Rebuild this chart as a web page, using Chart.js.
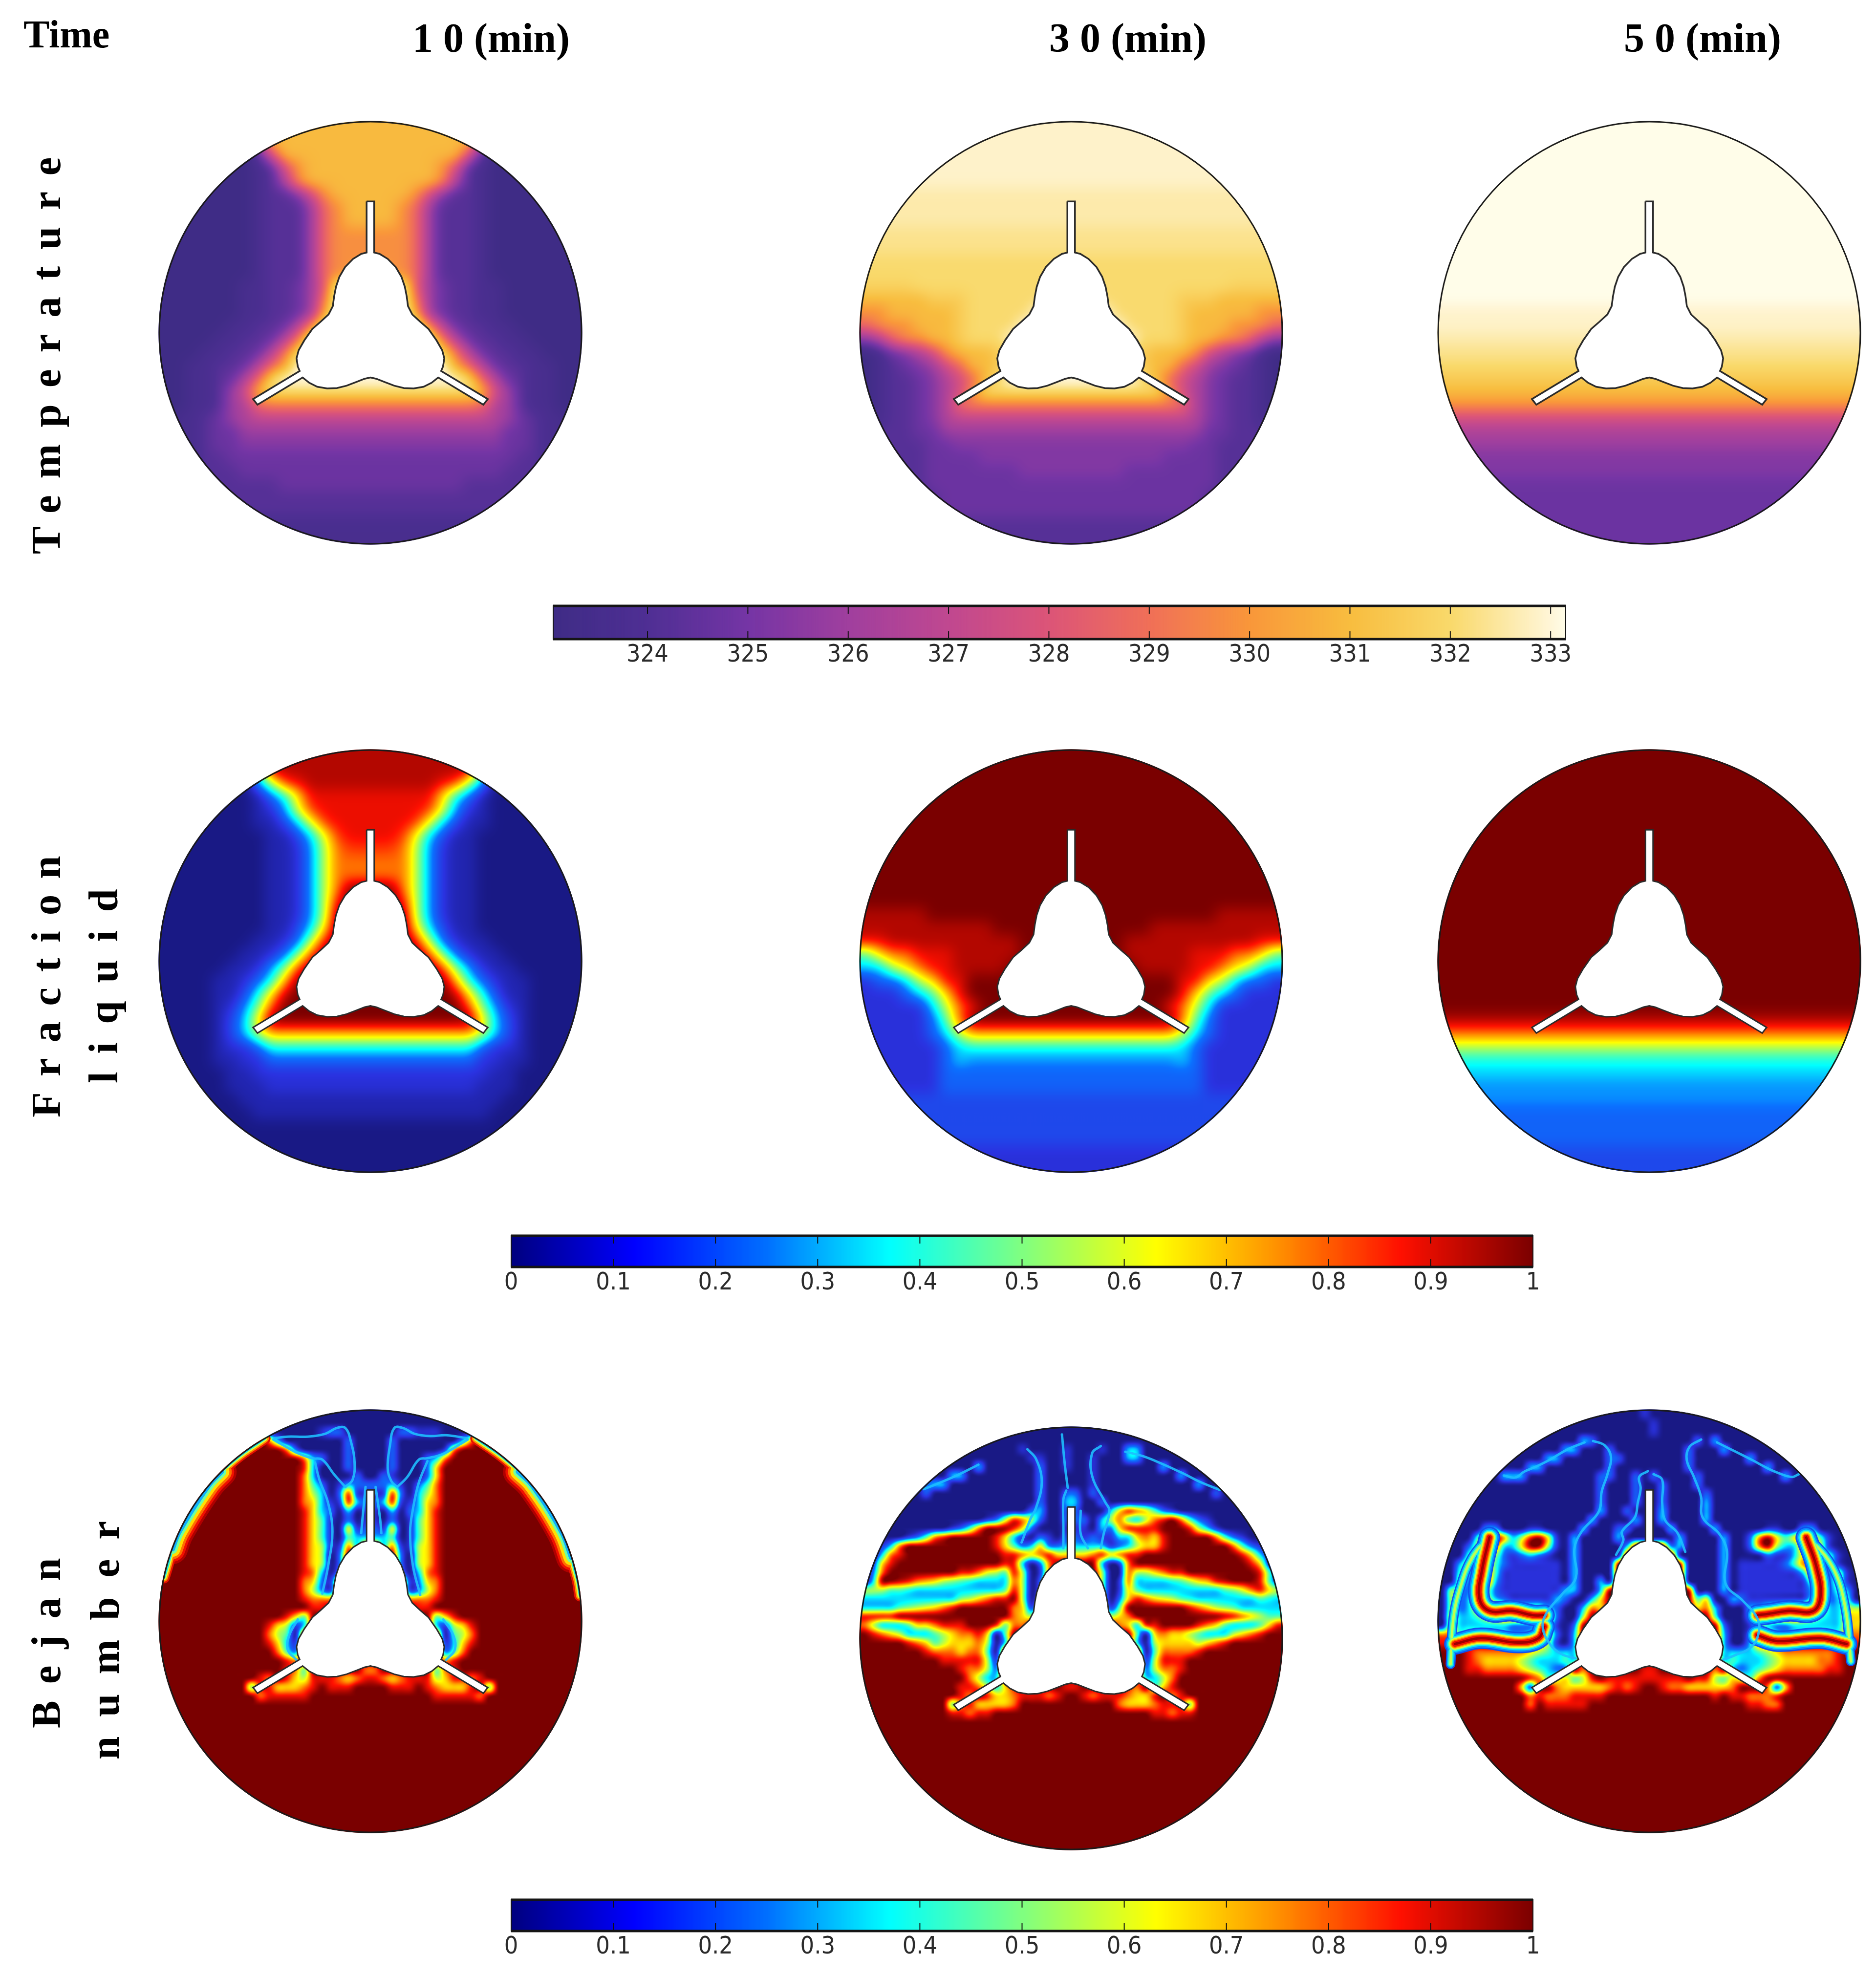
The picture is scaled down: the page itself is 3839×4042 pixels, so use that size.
<!DOCTYPE html>
<html>
<head>
<meta charset="utf-8">
<title>Temperature, fraction liquid and Bejan number</title>
<script src="https://cdn.jsdelivr.net/npm/chart.js@4/dist/chart.umd.min.js"></script>
<style>
  html, body { margin: 0; background: #fff; }
  #page { position: relative; width: 3839px; height: 4042px; overflow: hidden; background: #fff; }
  canvas { position: absolute; }
  .head, .side { position: absolute; font-family: "Liberation Serif", serif; font-weight: 700; color: #000; white-space: nowrap; line-height: 1; }
  .side { transform: rotate(-90deg); transform-origin: left top; font-size: 85px; }
</style>
</head>
<body>
<div id="page"></div>
<script>
// labels
const timeLabel = "Time";
const timeColumns = ["1 0 (min)", "3 0 (min)", "5 0 (min)"];
const tempTicks = [324, 325, 326, 327, 328, 329, 330, 331, 332, 333];
const ratioTicks = [0, 0.1, 0.2, 0.3, 0.4, 0.5, 0.6, 0.7, 0.8, 0.9, 1];

// colour scale stops
const tempStops = [[323.06, "#3f2c86"], [324, "#4f2f94"], [325, "#7535a5"], [326, "#a03f9e"], [327, "#c04890"], [328, "#dc5578"], [329, "#f07058"], [330, "#f9973a"], [331, "#f8bd3f"], [332, "#f9d96b"], [333, "#fff6d8"], [333.15, "#fffde9"]];
const jetStops = [[0, "#00007f"], [0.12, "#0000ff"], [0.25, "#0070ff"], [0.37, "#00ffff"], [0.5, "#80ff80"], [0.63, "#ffff00"], [0.75, "#ff9000"], [0.87, "#ff1000"], [1, "#7a0000"]];
const jetFieldStops = [[0, "#191985"], [0.12, "#2a32e0"], [0.25, "#0a70ff"], [0.37, "#00ffff"], [0.5, "#80ff80"], [0.63, "#ffff00"], [0.75, "#ff9000"], [0.87, "#ff1000"], [1, "#7a0000"]];

// tube with its three fins, in units of the enclosure radius
const tubeX = [-.018,.018,.018,.043,.082,.120,.147,.163,.172,.178,.198,.236,.275,.313,.340,.350,.344,.335,.556,.535,.321,.290,.252,.205,.159,.113,.066,.028,0,-.028,-.066,-.113,-.159,-.205,-.252,-.290,-.321,-.535,-.556,-.335,-.344,-.350,-.340,-.313,-.275,-.236,-.198,-.178,-.172,-.163,-.147,-.120,-.082,-.043,-.018,-.018];
const tubeY = [.622,.622,.380,.374,.350,.311,.265,.218,.172,.126,.087,.052,.018,-.036,-.083,-.121,-.160,-.181,-.314,-.341,-.212,-.237,-.256,-.264,-.262,-.251,-.233,-.218,-.212,-.218,-.233,-.251,-.262,-.264,-.256,-.237,-.212,-.341,-.314,-.181,-.160,-.121,-.083,-.036,.018,.052,.087,.126,.172,.218,.265,.311,.350,.374,.380,.622];

// field levels, one character per cell, top row first.
// 0-9 are levels, a-i are half steps (a = 0.5 ... i = 8.5), P Q R are 7.75 8.25 8.75
const temp10 = [
"0000000377777777 7777777730000000","0000000377777777 7777777730000000","0000000147777777 7777777410000000","0000000a14677777 77777641a0000000",
"0000000a13677777 77777631a0000000","0000000a11246777 77764211a0000000","0000000a111c5677 7765c111a0000000","0000000a111c5677 7765c111a0000000",
"0000000a111c5666 6665c111a0000000","0000000a111c5666 6665c111a0000000","0000000a111c5666 6665c111a0000000","0000000a111c5669 9665c111a0000000",
"000000aa11bce999 999ecb11aa000000","000000aa11bcf999 999fcb11aa000000","000000aa11bcg999 999gcb11aa000000","00000aa11b369999 999963b11aa00000",
"0000aa11b3f99999 99999f3b11aa0000","000aa11b3f899999 999998f3b11aa000","00aa11b35g999999 999999g53b11aa00","00aa1b3589999999 9999999853b1aa00",
"00aa1c4788888888 8888888874c1aa00","00aa1c35ffffffff ffffffff53c1aa00","0aa1bc3ddddddddd ddddddddd3cb1aa0","0aa1bbcccccccccc ccccccccccbb1aa0",
"0aa1bb2222222222 2222222222bb1aa0","0aa11bbbbbbbbbbb bbbbbbbbbbb11aa0","0aa111bbbbbbbbbb bbbbbbbbbb111aa0","0aa111111bbbbbbb bbbbbbb111111aa0",
"0aa1111111111111 1111111111111aa0","0aaa111111111111 111111111111aaa0","00aaaaaaaaaaaaaa aaaaaaaaaaaaaa00","00aaaaaaaaaaaaaa aaaaaaaaaaaaaa00"];
const temp30 = [
"RRRRRRRRRRRRRRRR RRRRRRRRRRRRRRRR","RRRRRRRRRRRRRRRR RRRRRRRRRRRRRRRR","RRRRRRRRRRRRRRRR RRRRRRRRRRRRRRRR","RRRRRRRRRRRRRRRR RRRRRRRRRRRRRRRR",
"RRRRRRRRRRRRRRRR RRRRRRRRRRRRRRRR","iiiiiiiiiiiiiiii iiiiiiiiiiiiiiii","iiiiiiiiiiiiiiii iiiiiiiiiiiiiiii","iiiiiiiiiiiiiiii iiiiiiiiiiiiiiii",
"QQQQQQQQQQQQQQQQ QQQQQQQQQQQQQQQQ","QQQQQQQQQQQQQQQQ QQQQQQQQQQQQQQQQ","8888888888888888 8888888888888888","8888888888888888 8888888888888888",
"PPPP888888888889 988888888888PPPP","77777hhh88888899 99888888hhh77777","6677777h88888999 99988888h7777766","5666777h88889999 99998888h7776665",
"2356677h88899999 99999888h7766532","0ab2346777h89999 99998h7776432ba0","0a1b2c4577h89999 99998h7754c2b1a0","0a11b23457899999 99999875432b11a0",
"0a11b23468888888 88888886432b11a0","0a11b235ffffffff ffffffff532b11a0","aa11b23ddddddddd ddddddddd32b11aa","a111bbcccccccccc ccccccccccbb111a",
"a1111bb222222222 222222222bb1111a","a1111bbbb2222222 2222222bbbb1111a","a1111bbbbbbb2222 2222bbbbbbb1111a","a1111bbbbbbbbbbb bbbbbbbbbbb1111a",
"a11111bbbbbbbbbb bbbbbbbbbb11111a","aa1111bbbbbbbbbb bbbbbbbbbb1111aa","aa11111111111111 11111111111111aa","aa11111111111111 11111111111111aa"];
const temp50 = [
"9999999999999999 9999999999999999","9999999999999999 9999999999999999","9999999999999999 9999999999999999","9999999999999999 9999999999999999",
"9999999999999999 9999999999999999","9999999999999999 9999999999999999","9999999999999999 9999999999999999","9999999999999999 9999999999999999",
"9999999999999999 9999999999999999","9999999999999999 9999999999999999","9999999999999999 9999999999999999","9999999999999999 9999999999999999",
"9999999999999999 9999999999999999","9999999999999999 9999999999999999","RRRRRRRRRRRRRRRR RRRRRRRRRRRRRRRR","RRRRRRRRRRRRRRRR RRRRRRRRRRRRRRRR",
"iiiiiiiiiiiiiiii iiiiiiiiiiiiiiii","QQQQQQQQQQQQQQQQ QQQQQQQQQQQQQQQQ","8888888888888888 8888888888888888","hhhhhhhhhhhhhhhh hhhhhhhhhhhhhhhh",
"7777777777777777 7777777777777777","6666666666666666 6666666666666666","4444444444444444 4444444444444444","3333333333333333 3333333333333333",
"cccccccccccccccc cccccccccccccccc","2222222222222222 2222222222222222","2222222222222222 2222222222222222","bbbbbbbbbbbbbbbb bbbbbbbbbbbbbbbb",
"bbbbbbbbbbbbbbbb bbbbbbbbbbbbbbbb","bbbbbbbbbbbbbbbb bbbbbbbbbbbbbbbb","bbbbbbbbbbbbbbbb bbbbbbbbbbbbbbbb","bbbbbbbbbbbbbbbb bbbbbbbbbbbbbbbb"];

const frac10 = [
"00000003iiiiiiii iiiiiiii30000000","00000004iiiiiiii iiiiiiii40000000","0000000c5h8iiiii iiiii8h5c0000000","0000000a2d688888 888886d2a0000000",
"0000000a1cfh8888 8888hfc1a0000000","0000000aab3fh888 888hf3baa0000000","00000000aab3fh88 88hf3baa00000000","00000000aa1c57hh hh75c1aa00000000",
"00000000aa1c5777 7775c1aa00000000","00000000aa1c5777 7775c1aa00000000","00000000aa1c5799 9975c1aa00000000","00000000aa1c5899 9985c1aa00000000",
"00000000aa1c5999 9995c1aa00000000","00000000aab36999 99963baa00000000","0000000aa1258999 9998521aa0000000","000000aa12eh9999 9999he21aa000000",
"00000aa1ceh99999 99999hec1aa00000","0000aa12dg999999 999999gd21aa0000","0000aabd6i999999 999999i6dbaa0000","0000a1ceh9999999 9999999hec1a0000",
"0000ab3699999999 9999999963ba0000","0000ab35gggggggg gggggggg53ba0000","0000a112dddddddd dddddddd211a0000","0000aa1122222222 2222222211aa0000",
"00000aa111111111 111111111aa00000","00000aaa11111111 11111111aaa00000","000000aaaaaaaaaa aaaaaaaaaa000000","0000000aaaaaaaaa aaaaaaaaa0000000",
"0000000000000000 0000000000000000","0000000000000000 0000000000000000","0000000000000000 0000000000000000","0000000000000000 0000000000000000"];
const frac30 = [
"9999999999999999 9999999999999999","9999999999999999 9999999999999999","9999999999999999 9999999999999999","9999999999999999 9999999999999999",
"9999999999999999 9999999999999999","9999999999999999 9999999999999999","9999999999999999 9999999999999999","9999999999999999 9999999999999999",
"9999999999999999 9999999999999999","9999999999999999 9999999999999999","9999999999999999 9999999999999999","9999999999999999 9999999999999999",
"iiiii99999999999 99999999999iiiii","iiiiiiiiii999999 999999iiiiiiiiii","88iiiiiiiiii9999 9999iiiiiiiiii88","4677888iiiii9999 9999iiiii8887764",
"3356788iiii99999 99999iiii8876533","1223568899999999 9999999988653221","1112346899999999 9999999986432111","1111135789999999 9999999875311111",
"1111124799999999 9999999974211111","11111235gggggggg gggggggg53211111","11111123dddddddd dddddddd32111111","11111123cccccccc cccccccc32111111",
"1111112222222222 2222222222111111","1111112222222222 2222222222111111","bbbbbbbbbbbbbbbb bbbbbbbbbbbbbbbb","bbbbbbbbbbbbbbbb bbbbbbbbbbbbbbbb",
"bbbbbbbbbbbbbbbb bbbbbbbbbbbbbbbb","1bbbbbbbbbbbbbbb bbbbbbbbbbbbbbb1","1111111111111111 1111111111111111","aaaaaaaa11111111 11111111aaaaaaaa"];
const frac50 = [
"9999999999999999 9999999999999999","9999999999999999 9999999999999999","9999999999999999 9999999999999999","9999999999999999 9999999999999999",
"9999999999999999 9999999999999999","9999999999999999 9999999999999999","9999999999999999 9999999999999999","9999999999999999 9999999999999999",
"9999999999999999 9999999999999999","9999999999999999 9999999999999999","9999999999999999 9999999999999999","9999999999999999 9999999999999999",
"9999999999999999 9999999999999999","9999999999999999 9999999999999999","9999999999999999 9999999999999999","9999999999999999 9999999999999999",
"9999999999999999 9999999999999999","9999999999999999 9999999999999999","9999999999999999 9999999999999999","9999999999999999 9999999999999999",
"iiiiiiiiiiiiiiii iiiiiiiiiiiiiiii","7777777777777777 7777777777777777","5555555555555555 5555555555555555","dddddddddddddddd dddddddddddddddd",
"3333333333333333 3333333333333333","cccccccccccccccc cccccccccccccccc","cccccccccccccccc cccccccccccccccc","2222222222222222 2222222222222222",
"2222222222222222 2222222222222222","2222222222222222 2222222222222222","bbbbbbbbbbbbbbbb bbbbbbbbbbbbbbbb","bbbbbbbbbbbbbbbb bbbbbbbbbbbbbbbb"];

const ZERO = "000000000000000000000000000000000000000000000000";
const FULL = "999999999999999999999999999999999999999999999999";

const bejan10 = [
ZERO, ZERO,
"000000000000000000122000 000221110000000000000000",
"999999999999730000000200 002000000037999999999999",
"999999999999997200000200 002000001799999999999999",
"999999999999999973200200 002000237999999999999999",
"999999999999999983000200 002000269999999999999999",
"999999999999999973000020 021000269999999999999999",
"999999999999999974201322 223102479999999999999999",
"999999999999999975302811 118203579999999999999999",
"999999999999999976311832 238113679999999999999999",
"999999999999999986320301 103023689999999999999999",
"999999999999999986410201 102014689999999999999999",
"999999999999999986410612 216014689999999999999999",
"999999999999999986410433 334014689999999999999999",
"999999999999999986511739 937115689999999999999999",
"999999999999999986502999 999205689999999999999999",
"999999999999999986502999 999205689999999999999999",
"999999999999999987303999 999303789999999999999999",
"999999999999999976219999 999912679999999999999999",
"999999999999999975219999 999912579999999999999999",
"999999999999999987779999 999977789999999999999999",
"999999999999999998899999 999998899999999999999999",
"999999999999998649999999 999999946899999999999999",
"999999999999865139999999 999999931568999999999999",
"999999999999754099999999 999999990457999999999999",
"999999999999863199999999 999999991368999999999999",
"999999999999974299999999 999999992479999999999999",
"999999999999998799999999 999999997899999999999999",
"999999999999998749999997 799999947899999999999999",
"999999999998798658887678 876788856887899999999999",
"999999999948866678988899 998889876668949999999999",
"999999999997888889999999 999999988888799999999999",
FULL, FULL, FULL, FULL, FULL, FULL, FULL, FULL, FULL, FULL, FULL, FULL, FULL, FULL, FULL];

const bejan30 = [
ZERO, ZERO,
"00000000 00000000 00100001 00010033 00000000 00000000",
"00000000 00000000 00011001 00100033 00000000 00000000",
"00000000 00000300 00002001 00100000 00300000 00000000",
"00000000 00330000 00002000 00100000 00003000 00000000",
"00000002 33000000 00002000 00100000 00000030 00000000",
"00000002 00000000 00002002 20200000 00000000 20000000",
"00000000 00000000 00002003 30020000 00000000 00000000",
"00000000 00000000 00023002 20003687 64210000 00000000",
"00000000 00000012 58752002 22035743 57897421 00000000",
"00000000 00124799 98620001 11032688 88999853 10000000",
"00000124 78999998 63102102 21211336 76899999 74210000",
"00137999 99999998 64236223 33331235 66899999 99742100",
"00378999 99999999 88767866 66786788 99999999 99986310",
"01689999 99999999 88302799 99930179 99999999 99998610",
"02799999 999887f5 48501799 99950075 56788999 99999841",
"0399i87g 65e4d333 37502999 99950173 333d456g 8i999841",
"55544d33 33333333 48502999 99950164 33333333 34ef7865",
"33333333 333e5678 89503999 99950268 76f54d33 333334d3",
"33334e5f 67899999 97616999 99961499 99999876 5e433333",
"88889999 99999999 97659999 99995679 99999999 9i876544",
"75333466 78889998 47799999 99999763 88999987 64333468",
"98765333 45677860 49999999 99999994 06766543 33567899",
"99999876 45666750 39999999 99999993 05666656 78999999",
"99999998 77767740 99999999 99999999 04777789 99999999",
"99999999 98888851 99999999 99999999 15888999 99999999",
"99999999 99987752 99999999 99999999 25778999 99999999",
"99999999 99997533 99999999 99999999 33579999 99999999",
"99999999 99988753 68999998 89999987 94689999 99999999",
"99999999 99987986 67888789 98788876 68978999 99999999",
"99999999 99478666 67999999 99999766 67888499 99999999",
"99999999 99887889 99999999 99999999 98878899 99999999",
FULL, FULL, FULL, FULL, FULL, FULL, FULL, FULL, FULL, FULL, FULL, FULL, FULL, FULL, FULL];

const bejan50 = [
"00000000 00000000 00000001 00000000 00000000 00000000",
"00000000 00000000 00000000 10000000 00000000 00000000",
"00000000 00000000 00000000 10000000 00000000 00000000",
"00000000 00000000 32000000 00000203 00000000 00000000",
"00000000 00000033 00020000 00002000 30000000 00000000",
"00000000 00003300 00022000 00002000 00030000 00000000",
"00000000 00330000 00020000 00002000 00000300 00000000",
"00000003 33000000 00220020 20000200 00000003 00000000",
"00000000 00000000 00200020 02000200 00000000 00000000",
"00000000 00000000 00200020 02000020 00000000 00000000",
"00000000 00000000 00200020 02000030 00000000 00000000",
"00000000 00000000 00300200 03000030 00000000 00000000",
"00000000 00000000 03000030 03000030 00000000 00000000",
"00000330 00110000 30002200 00300003 00000110 03300000",
"00004797 35896103 00003000 00030000 30027964 69741000",
"00025783 36995103 00000399 99230000 30027953 38651000",
"00043852 12321003 00000999 99900000 30000211 36424100",
"00352842 11111103 00009999 99990000 30111112 47824100",
"00433841 11111103 00009999 99990000 30111111 13842510",
"00525931 11111103 00309999 99990000 30111111 11582510",
"05328521 11111133 00399999 99999000 30111111 11382430",
"05239632 11111320 03699999 99999460 03211111 11482340",
"05237997 65553200 37699999 99999673 00033568 99973355",
"06334689 99988200 59999999 99999994 00038999 98643366",
"06333333 22234102 99999999 99999999 20014322 33333366",
"77455544 33466203 99999999 99999999 30026643 45554477",
"88889999 88875103 99999999 99999999 30038889 99999888",
"99987777 77654333 99999999 99999999 33334567 77777899",
"99987666 65433343 99999999 99999999 34333456 66677899",
"99988777 76543229 79999998 89999997 93234567 77778899",
"99999999 99874564 58988888 88889885 46547999 99999999",
"99999999 96189766 66678789 98776666 67999716 99999999",
"99999999 99787778 88899999 99999998 98877789 99999999",
"99999999 99798888 89999999 99999999 99988779 99999999",
FULL, FULL, FULL, FULL, FULL, FULL, FULL, FULL, FULL, FULL, FULL, FULL, FULL, FULL];

// thin structures of the Bejan field, read as x,y pairs from the enlarged crop of each panel
const bejan10Filaments = [
  [445,175, 490,170, 560,170, 620,160, 660,140, 690,140, 710,190, 722,260, 715,320, 690,345],
  [1110,175, 1040,165, 985,168, 930,160, 890,140, 860,140, 845,200, 837,280, 850,325, 870,345],
  [440,180, 520,225, 575,245, 610,250, 650,300, 690,345],
  [1115,180, 1030,230, 975,245, 945,250, 905,310, 870,345],
  [585,260, 600,320, 630,400, 645,500, 630,620, 610,715],
  [975,255, 945,330, 925,420, 915,500, 925,620, 950,720],
  [760,345, 750,450, 745,505], [795,345, 810,450, 815,505],
  [525,805, 495,860, 490,910, 520,945], [1030,805, 1065,860, 1070,910, 1040,945]
];
const bejan30Filaments = [
  [290,365, 340,345, 410,315, 480,280], [990,235, 1050,250, 1120,278, 1190,310, 1250,340, 1320,368],
  [650,226, 680,260, 700,340, 680,430, 660,470, 630,550], [905,215, 875,240, 875,320, 920,410, 935,440, 915,520, 905,570],
  [770,175, 780,280, 790,360], [785,370, 775,400, 775,500, 775,570], [835,440, 835,520, 860,570]
];
const bejan50Filaments = [
  [300,305, 340,312, 370,292, 410,275, 460,250, 520,215, 580,190],
  [1040,190, 1090,215, 1160,250, 1220,282, 1250,295, 1300,310, 1325,300],
  [610,185, 650,200, 672,240, 660,300, 640,360, 630,430, 570,500, 545,560, 550,660, 500,720, 450,780, 435,830, 460,890, 500,925, 550,940],
  [985,180, 945,205, 935,250, 960,310, 985,380, 990,450, 1050,510, 1075,570, 1070,680, 1130,740, 1180,800, 1185,850, 1160,900, 1100,930, 1060,945],
  [800,290, 770,310, 775,350, 765,400, 755,450, 710,500, 715,530, 690,580],
  [820,300, 850,320, 850,400, 860,460, 900,500, 915,530, 930,570]
];
// bands that hug the enclosure wall in the 10 min panel
const bejan10WallLong = [[60,659, 113,501, 215,340, 306,250, 410,176], [1144,176, 1248,250, 1339,340, 1441,501, 1494,659, 1505,722]];
const bejan10WallMid = [[90,560, 113,501, 215,340, 260,292], [1290,292, 1339,340, 1441,501, 1475,590]];
const bejan50Ridges = [
  [250,520, 225,630, 215,730, 250,775, 330,775, 400,790, 440,790],
  [1350,520, 1385,620, 1400,720, 1375,775, 1290,775, 1220,785, 1180,790],
  [130,890, 220,870, 350,885, 420,870, 440,830], [1180,860, 1250,880, 1400,870, 1490,890]
];
const bejan50Loops = [
  [250,515, 190,590, 150,690, 125,800, 115,960], [1350,510, 1440,620, 1485,760, 1505,950]
];

// ---- helpers ----
const R = 432;
const LIM = 440 / R;
const quarterLevels = { P: 7.75, Q: 8.25, R: 8.75 };

function levelOf(c) {
  if (quarterLevels[c] !== undefined) return quarterLevels[c];
  if (c >= "0" && c <= "9") return +c;
  return c.charCodeAt(0) - 97 + 0.5;
}

function buildCells(rows, toValue) {
  const n = rows[0].replace(/ /g, "").length;
  const cells = [];
  rows.forEach((row, j) => {
    const clean = row.replace(/ /g, "");
    const r = clean.padEnd(n, clean.slice(-1)).slice(0, n);
    for (let i = 0; i < n; i++) {
      cells.push({ x: -1 + (i + 0.5) * 2 / n, y: 1 - (j + 0.5) * 2 / n, v: toValue(levelOf(r[i])) });
    }
  });
  return { cells, n };
}

function hexRgb(h) {
  return [parseInt(h.slice(1, 3), 16), parseInt(h.slice(3, 5), 16), parseInt(h.slice(5, 7), 16)];
}

function makeLut(stops, size) {
  const lo = stops[0][0], hi = stops[stops.length - 1][0];
  const lut = [];
  for (let k = 0; k < size; k++) {
    const v = lo + (hi - lo) * k / (size - 1);
    let s = 0;
    while (s < stops.length - 2 && v > stops[s + 1][0]) s++;
    const t = (v - stops[s][0]) / (stops[s + 1][0] - stops[s][0]);
    const a = hexRgb(stops[s][1]), b = hexRgb(stops[s + 1][1]);
    lut.push([a[0] + (b[0] - a[0]) * t, a[1] + (b[1] - a[1]) * t, a[2] + (b[2] - a[2]) * t]);
  }
  return { lut, lo, hi };
}

// cubic reconstruction kernel, B=1 C=0 is the soft spline, B=C=1/3 keeps more contrast
function kernel(x, B, C) {
  const a = Math.abs(x), a2 = a * a, a3 = a2 * a;
  if (a < 1) return ((12 - 9 * B - 6 * C) * a3 + (-18 + 12 * B + 6 * C) * a2 + (6 - 2 * B)) / 6;
  if (a < 2) return ((-B - 6 * C) * a3 + (6 * B + 30 * C) * a2 + (-12 * B - 48 * C) * a + (8 * B + 24 * C)) / 6;
  return 0;
}

// Shades the cells of dataset 0 inside the circular enclosure, placed through the chart scales
function fieldPlugin(scale, n, B, C) {
  return {
    id: "fieldShade",
    beforeDatasetsDraw(chart) {
      const { ctx, chartArea: area, scales } = chart;
      const cells = chart.data.datasets[0].data;
      const w = Math.round(area.right - area.left), h = Math.round(area.bottom - area.top);
      const off = document.createElement("canvas");
      off.width = w; off.height = h;
      const octx = off.getContext("2d");
      const img = octx.createImageData(w, h);
      const rpx = scales.x.getPixelForValue(1) - scales.x.getPixelForValue(0);
      const at = (i, j) => cells[Math.max(0, Math.min(n - 1, j)) * n + Math.max(0, Math.min(n - 1, i))].v;
      const size = scale.lut.length - 1;
      const wts = t => [kernel(t + 1, B, C), kernel(t, B, C), kernel(1 - t, B, C), kernel(2 - t, B, C)];
      for (let py = 0; py < h; py++) {
        const yv = scales.y.getValueForPixel(area.top + py + 0.5);
        const fy = (1 - yv) * n / 2 - 0.5, j = Math.floor(fy), wy = wts(fy - j);
        for (let px = 0; px < w; px++) {
          const xv = scales.x.getValueForPixel(area.left + px + 0.5);
          const r = Math.hypot(xv, yv);
          if (r > 1.005) continue;
          const fx = (xv + 1) * n / 2 - 0.5, i = Math.floor(fx), wx = wts(fx - i);
          let v = 0;
          for (let m = 0; m < 4; m++) {
            for (let q = 0; q < 4; q++) v += wy[m] * wx[q] * at(i - 1 + q, j - 1 + m);
          }
          const k = Math.max(0, Math.min(size, Math.round((v - scale.lo) / (scale.hi - scale.lo) * size)));
          const c = scale.lut[k], o = (py * w + px) * 4;
          img.data[o] = c[0]; img.data[o + 1] = c[1]; img.data[o + 2] = c[2];
          img.data[o + 3] = Math.max(0, Math.min(255, (1.005 - r) * rpx * 255));
        }
      }
      octx.putImageData(img, 0, 0);
      ctx.drawImage(off, area.left, area.top);
    },
    // the thin structures stay inside the enclosure
    beforeDatasetDraw(chart, args) {
      if (args.index < 2) return;
      const { ctx, scales } = chart;
      const cx = scales.x.getPixelForValue(0), cy = scales.y.getPixelForValue(0);
      ctx.save();
      ctx.beginPath();
      ctx.arc(cx, cy, scales.x.getPixelForValue(1) - cx, 0, Math.PI * 2);
      ctx.clip();
    },
    afterDatasetDraw(chart, args) {
      if (args.index >= 2) chart.ctx.restore();
    },
    afterDatasetsDraw(chart) {
      const { ctx, scales } = chart;
      const cx = scales.x.getPixelForValue(0), cy = scales.y.getPixelForValue(0);
      ctx.save();
      ctx.strokeStyle = "#1a1a1a";
      ctx.lineWidth = 3;
      ctx.beginPath();
      ctx.arc(cx, cy, scales.x.getPixelForValue(1) - cx, 0, Math.PI * 2);
      ctx.stroke();
      ctx.restore();
    }
  };
}

const page = document.getElementById("page");

function addCanvas(left, top, w, h) {
  const c = document.createElement("canvas");
  c.width = w; c.height = h;
  c.style.left = left + "px"; c.style.top = top + "px";
  c.style.width = w + "px"; c.style.height = h + "px";
  page.appendChild(c);
  return c;
}

// read pairs from a crop into panel units (crop centre and radius in crop pixels)
function readLine(pairs, crop) {
  const pts = [];
  for (let i = 0; i < pairs.length; i += 2) {
    pts.push({ x: (pairs[i] - crop.cx) / 733, y: (crop.cy - pairs[i + 1]) / 733 });
  }
  return pts;
}

function lineSet(pts, color, width, order) {
  return { data: pts, showLine: true, tension: 0.4, pointRadius: 0, borderColor: color, borderWidth: width, borderCapStyle: "round", borderJoinStyle: "round", fill: false, order };
}

function drawPanel(cx, cy, rows, toValue, scale, tubeLine, soft, extras) {
  const { cells, n } = buildCells(rows, toValue);
  const canvas = addCanvas(cx - 440, cy - 440, 880, 880);
  new Chart(canvas, {
    type: "scatter",
    data: {
      datasets: [
        { data: cells, pointRadius: 0, pointHoverRadius: 0, showLine: false, order: 30 },
        {
          data: tubeX.map((x, i) => ({ x, y: tubeY[i] })),
          showLine: true, tension: 0, pointRadius: 0, order: 0,
          borderColor: "#2a2a2a", borderWidth: tubeLine, backgroundColor: "#ffffff", fill: "shape"
        },
        ...(extras || [])
      ]
    },
    options: {
      responsive: false, animation: false, devicePixelRatio: 1,
      layout: { padding: 0 },
      plugins: { legend: { display: false }, tooltip: { enabled: false } },
      scales: {
        x: { type: "linear", min: -LIM, max: LIM, display: false },
        y: { type: "linear", min: -LIM, max: LIM, display: false }
      }
    },
    plugins: [soft ? fieldPlugin(scale, n, 1, 0) : fieldPlugin(scale, n, 1 / 3, 1 / 3)]
  });
}

function drawBar(left, top, width, height, lo, hi, ticks, stops) {
  const scale = makeLut(stops, 1024);
  const pad = 60;
  const canvas = addCanvas(left - pad, top - 4, width + pad * 2, height + 70);
  new Chart(canvas, {
    type: "scatter",
    data: { datasets: [{ data: ticks.map(v => ({ x: v, y: 0 })), pointRadius: 0 }] },
    options: {
      responsive: false, animation: false, devicePixelRatio: 1,
      layout: { padding: { left: pad, right: pad, top: 4, bottom: 0 } },
      plugins: { legend: { display: false }, tooltip: { enabled: false } },
      scales: {
        x: {
          type: "linear", min: lo, max: hi, position: "bottom",
          afterFit: s => { s.height = 66; },
          afterBuildTicks: s => { s.ticks = ticks.map(value => ({ value })); },
          grid: { display: false, drawTicks: false },
          border: { display: false },
          ticks: {
            autoSkip: false, maxRotation: 0, padding: 3, color: "#2b2b2b",
            font: { size: 50, family: "'DejaVu Sans Condensed', 'DejaVu Sans', sans-serif" },
            callback: v => String(v)
          }
        },
        y: { type: "linear", min: 0, max: 1, display: false }
      }
    },
    plugins: [{
      id: "colourBar",
      beforeDatasetsDraw(chart) {
        const { ctx, chartArea: a, scales } = chart;
        for (let k = 0; k < scale.lut.length; k++) {
          const v0 = lo + (hi - lo) * k / scale.lut.length, v1 = lo + (hi - lo) * (k + 1) / scale.lut.length;
          const sv = (v0 - scale.lo) / (scale.hi - scale.lo);
          const c = scale.lut[Math.max(0, Math.min(scale.lut.length - 1, Math.round(sv * (scale.lut.length - 1))))];
          ctx.fillStyle = `rgb(${c[0]},${c[1]},${c[2]})`;
          const x0 = scales.x.getPixelForValue(v0), x1 = scales.x.getPixelForValue(v1);
          ctx.fillRect(x0, a.top, x1 - x0 + 1, a.bottom - a.top);
        }
        ctx.strokeStyle = "#111";
        ctx.lineWidth = 2;
        ticks.forEach(t => {
          const x = scales.x.getPixelForValue(t);
          ctx.beginPath();
          ctx.moveTo(x, a.top); ctx.lineTo(x, a.top + 16);
          ctx.moveTo(x, a.bottom); ctx.lineTo(x, a.bottom - 16);
          ctx.stroke();
        });
        ctx.strokeStyle = "#151515";
        ctx.lineWidth = 2;
        ctx.strokeRect(a.left, a.top, a.right - a.left, a.bottom - a.top);
        ctx.lineWidth = 5;
        ctx.beginPath();
        ctx.moveTo(a.left, a.top); ctx.lineTo(a.right, a.top);
        ctx.moveTo(a.left, a.bottom); ctx.lineTo(a.right, a.bottom);
        ctx.stroke();
      }
    }]
  });
}

function addHead(text, left, top, size) {
  const d = document.createElement("div");
  d.className = "head";
  d.textContent = text;
  d.style.left = left + "px"; d.style.top = top + "px"; d.style.fontSize = size + "px";
  page.appendChild(d);
}

function addSide(text, left, bottom, spacing) {
  const d = document.createElement("div");
  d.className = "side";
  d.textContent = text;
  d.style.left = left + "px"; d.style.top = bottom + "px"; d.style.letterSpacing = spacing + "px";
  page.appendChild(d);
}

function filamentSets(lines, crop) {
  return lines.map(l => lineSet(readLine(l, crop), "rgba(30,190,255,0.9)", 5, 5));
}

// one line stroked several times, widest first, so it fades out through the colour scale
function layered(lines, crop, layers) {
  const out = [];
  lines.forEach(l => {
    const pts = readLine(l, crop);
    layers.forEach((layer, i) => out.push(lineSet(pts, layer[0], layer[1], 20 - i)));
  });
  return out;
}

const ridgeLayers = [["#1050f0", 44], ["#0a90ff", 38], ["#00e8ff", 32], ["#70ffa0", 27], ["#e0ff30", 23], ["#ffc000", 19], ["#ff6000", 15], ["#f01000", 11], ["#a00000", 5]];
const loopLayers = [["#1050f0", 20], ["#00c0ff", 15], ["#40ffc0", 10], ["#c0ff50", 5]];
const wallLongLayers = [["#e81000", 24], ["#ff9000", 17], ["#e8ff30", 11], ["#20e8e0", 6]];
const wallMidLayers = [["#b00000", 62], ["#f01000", 52], ["#ff7000", 42], ["#ffe000", 32], ["#70ffa0", 20], ["#10b0ff", 10]];

// ---- page ----
addHead(timeLabel, 48, 30, 80);
addHead(timeColumns[0], 844, 36, 84);
addHead(timeColumns[1], 2147, 36, 84);
addHead(timeColumns[2], 3323, 36, 84);

addSide("Temperature", 52, 1134, 34);
addSide("Fraction", 52, 2287, 32);
addSide("liquid", 169, 2217, 37);
addSide("Bejan", 52, 3537, 34);
addSide("number", 172, 3601, 40);

const tempScale = makeLut(tempStops, 1024);
const jetScale = makeLut(jetFieldStops, 1024);
const toKelvin = d => 323.06 + d * 10.09 / 9;
const toRatio = d => d / 9;

const crop10 = { cx: 777, cy: 811 }, crop30 = { cx: 802, cy: 883 }, crop50 = { cx: 805, cy: 811 };

drawPanel(758, 681, temp10, toKelvin, tempScale, 3.5, true);
drawPanel(2192, 681, temp30, toKelvin, tempScale, 3.5, true);
drawPanel(3375, 681, temp50, toKelvin, tempScale, 3.5, true);
drawPanel(758, 1967, frac10, toRatio, jetScale, 3, true);
drawPanel(2192, 1967, frac30, toRatio, jetScale, 3, true);
drawPanel(3375, 1967, frac50, toRatio, jetScale, 3, true);
drawPanel(758, 3318, bejan10, toRatio, jetScale, 3, false, [
  ...filamentSets(bejan10Filaments, crop10),
  ...layered(bejan10WallLong, crop10, wallLongLayers),
  ...layered(bejan10WallMid, crop10, wallMidLayers)
]);
drawPanel(2192, 3353, bejan30, toRatio, jetScale, 3, false, filamentSets(bejan30Filaments, crop30));
drawPanel(3375, 3318, bejan50, toRatio, jetScale, 3, false, [
  ...filamentSets(bejan50Filaments, crop50),
  ...layered(bejan50Ridges, crop50, ridgeLayers),
  ...layered(bejan50Loops, crop50, loopLayers)
]);

drawBar(1132, 1240, 2072, 68, 323.06, 333.15, tempTicks, tempStops);
drawBar(1046, 2529, 2091, 64, 0, 1, ratioTicks, jetStops);
drawBar(1046, 3888, 2091, 64, 0, 1, ratioTicks, jetStops);
</script>
</body>
</html>
